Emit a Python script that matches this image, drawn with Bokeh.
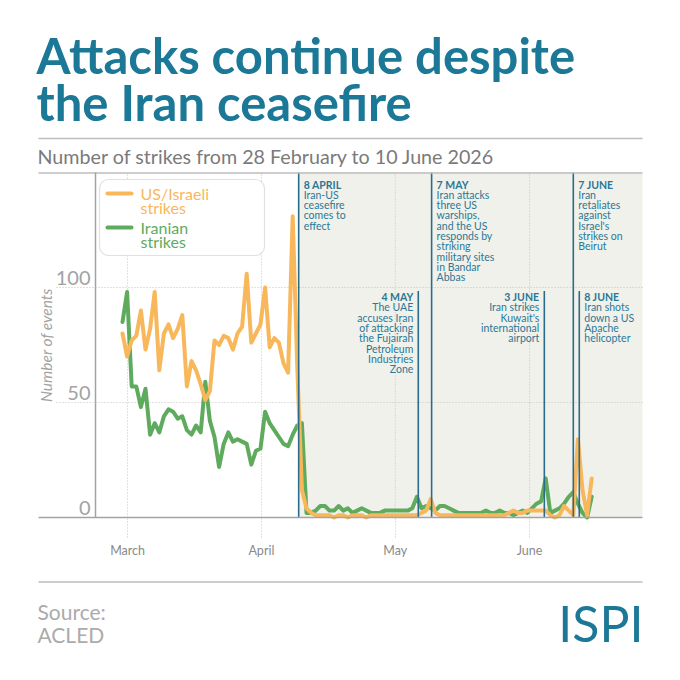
import math
from bokeh.plotting import figure
from bokeh.models import (BoxAnnotation, Label, LinearAxis, FixedTicker,
                          ColumnDataSource, Range1d)
from bokeh.core.properties import value
from bokeh.embed import file_html
from bokeh.resources import INLINE

# ---------------- data ----------------
# day index: 0 = 28 February 2026 ... 102 = 10 June 2026
DAY_INDEX = list(range(103))

US_ISRAELI = [
    80, 70, 77, 79, 90, 73, 82, 98, 64, 80,
    84, 78, 82, 88, 57, 68, 64, 58, 51, 55,
    77, 75, 79, 78, 73, 80, 83, 106, 76, 80,
    84, 100, 74, 78, 76, 67, 63, 131, 65, 12,
    4, 2, 1, 1, 1, 1, 0, 1, 1, 0,
    1, 1, 1, 0, 1, 1, 1, 1, 1, 1,
    1, 1, 1, 1, 1, 2, 3, 8, 2, 1,
    1, 1, 1, 1, 1, 1, 1, 1, 1, 1,
    1, 1, 1, 1, 2, 3, 2, 2, 3, 3,
    3, 3, 3, 1, 0, 1, 5, 3, 1, 34,
    12, 1, 17,
]

IRANIAN = [
    85, 98, 57, 57, 48, 56, 36, 41, 37, 44,
    47, 46, 43, 44, 38, 36, 40, 37, 59, 42,
    35, 22, 32, 37, 33, 34, 33, 32, 23, 29,
    30, 46, 41, 38, 35, 32, 31, 36, 40, 41,
    2, 2, 3, 5, 5, 3, 3, 5, 3, 4,
    2, 3, 4, 3, 2, 2, 2, 3, 3, 3,
    3, 3, 3, 4, 9, 4, 5, 4, 3, 5,
    5, 4, 3, 2, 2, 2, 2, 2, 2, 3,
    2, 2, 3, 2, 2, 1, 2, 3, 2, 4,
    6, 7, 17, 2, 3, 4, 6, 9, 11, 6,
    2, 0, 9,
]

MONTH_LABELS = ["March", "April", "May", "June"]
MONTH_TICKS = [1.1, 30.2, 59.3, 88.5]          # positions
Y_TICKS = [0, 50, 100]
Y_GRID = [50, 100]

EVENT_DATES = ["8 APRIL", "4 MAY", "7 MAY", "3 JUNE", "7 JUNE", "8 JUNE"]
EVENT_POS = [38.3, 64.3, 67.2, 91.7, 98.0, 99.3]
EVENT_TIER = [0, 1, 0, 1, 0, 1]
EVENT_SIDE = ["right", "left", "right", "left", "right", "right"]
EVENT_TEXT = [
    ["Iran-US", "ceasefire", "comes to", "effect"],
    ["The UAE", "accuses Iran", "of attacking", "the Fujairah", "Petroleum",
     "Industries", "Zone"],
    ["Iran attacks", "three US", "warships,", "and the US", "responds by",
     "striking", "military sites", "in Bandar", "Abbas"],
    ["Iran strikes", "Kuwait's", "international", "airport"],
    ["Iran", "retaliates", "against", "Israel's", "strikes on", "Beirut"],
    ["Iran shots", "down a US", "Apache", "helicopter"],
]

# ---------------- style / layout ----------------
TEAL = "#1b7896"
ANNOT = "#2b7896"
EVLINE = "#2b6c8b"
ORANGE = "#f9b75b"
GREEN = "#5eab5e"
SHADE = "#f1f1eb"
GRIDC = "#c2c2c2"
RULE = "#bdbdbd"
FONT = "Lato"

W = H = 664
PX0, PPD = 122.0, 4.6               # canvas-x of day 0, pixels per day
FL, FR, FT, FB = 38, 642, 172, 517  # chart box on the canvas
YMAX = 150.0
PPU = (FB - FT) / YMAX


def dx(px):
    return (px - PX0) / PPD


def dy(py):
    return (FB - py) / PPU


p = figure(width=W, height=H, output_backend="svg", toolbar_location=None,
           x_range=Range1d(dx(0), dx(W)), y_range=Range1d(dy(H), dy(0)),
           x_axis_type=None, y_axis_type=None,
           min_border_left=0, min_border_right=0,
           min_border_top=0, min_border_bottom=0)
p.outline_line_color = None
p.background_fill_color = "white"
p.border_fill_color = "white"

# shaded post-ceasefire period
p.add_layout(BoxAnnotation(left=EVENT_POS[0], right=dx(FR), top=YMAX, bottom=0,
                           fill_color=SHADE, fill_alpha=1, line_color=None,
                           level="image"))

# grid lines
p.segment(x0=MONTH_TICKS, x1=MONTH_TICKS, y0=[0] * 4, y1=[YMAX] * 4,
          line_color=GRIDC, line_dash="1 2", line_width=1)
p.segment(x0=[dx(56)] * len(Y_GRID), x1=[dx(FR)] * len(Y_GRID), y0=Y_GRID,
          y1=Y_GRID, line_color=GRIDC, line_dash="1 2", line_width=1)

# x axis
xax = LinearAxis(fixed_location=0, bounds=(dx(FL), dx(FR)),
                 ticker=FixedTicker(ticks=MONTH_TICKS))
xax.major_label_overrides = {t: lab for t, lab in zip(MONTH_TICKS, MONTH_LABELS)}
xax.axis_line_color = "#a3a3a3"
xax.axis_line_width = 1.5
xax.major_tick_in = 0
xax.major_tick_out = 20
xax.major_tick_line_color = GRIDC
xax.major_tick_line_dash = "1 2"
xax.minor_tick_line_color = None
xax.major_label_standoff = 5
xax.major_label_text_font = FONT
xax.major_label_text_font_size = "12.5px"
xax.major_label_text_color = "#8a8a8a"
p.add_layout(xax, "below")

# y axis (line + title); tick labels sit above the grid lines
yax = LinearAxis(fixed_location=dx(95), bounds=(0, YMAX),
                 ticker=FixedTicker(ticks=[]), axis_label="Number of events")
yax.axis_line_color = "#a3a3a3"
yax.axis_line_width = 1.5
yax.major_tick_in = 0
yax.major_tick_out = 0
yax.minor_tick_line_color = None
yax.axis_label_standoff = 41
yax.axis_label_text_font = FONT
yax.axis_label_text_font_style = "italic"
yax.axis_label_text_font_size = "15.5px"
yax.axis_label_text_color = "#a3a3a3"
p.add_layout(yax, "left")

p.text(x=[dx(90)] * len(Y_TICKS), y=Y_TICKS, text=[str(t) for t in Y_TICKS],
       text_align="right", text_baseline="middle", y_offset=-9.5,
       text_font=value(FONT), text_font_size="20px", text_color="#a3a3a3")

# data lines
p.line(DAY_INDEX, IRANIAN, line_color=GREEN, line_width=4, line_join="round",
       line_cap="round")
p.line(DAY_INDEX, US_ISRAELI, line_color=ORANGE, line_width=4,
       line_join="round", line_cap="round")

# event lines and notes
LOW_TOP = dy(290.5)
tops = [YMAX if t == 0 else LOW_TOP for t in EVENT_TIER]
p.segment(x0=EVENT_POS, x1=EVENT_POS, y0=[0] * len(EVENT_POS), y1=tops,
          line_color=EVLINE, line_width=1.6)

rows = dict(x=[], y=[], text=[], xo=[], yo=[], align=[], style=[])
for pos, date, lines, tier, side in zip(EVENT_POS, EVENT_DATES, EVENT_TEXT,
                                        EVENT_TIER, EVENT_SIDE):
    anchor = YMAX if tier == 0 else LOW_TOP
    first = 12 if tier == 0 else 6
    for k, t in enumerate([date] + lines):
        rows["x"].append(pos)
        rows["y"].append(anchor)
        rows["text"].append(t)
        rows["xo"].append(5 if side == "right" else -5)
        rows["yo"].append(first + k * 10.3)
        rows["align"].append("left" if side == "right" else "right")
        rows["style"].append("bold" if k == 0 else "normal")
p.text(x="x", y="y", text="text", x_offset="xo", y_offset="yo",
       text_align="align", text_font_style="style", text_baseline="middle",
       text_font=value(FONT), text_font_size="10.5px", text_color=ANNOT,
       source=ColumnDataSource(rows))

# rules: header separator, chart top, footer separator
RULES_Y = [dy(138), dy(172.5), dy(581.5)]
p.segment(x0=[dx(FL)] * 3, x1=[dx(FR)] * 3, y0=RULES_Y, y1=RULES_Y,
          line_color=RULE, line_width=1.5)

# legend
p.add_layout(BoxAnnotation(left=dx(99), right=dx(264), top=dy(179), bottom=dy(255),
                           fill_color="white", fill_alpha=1, line_color="#9c9c9c",
                           line_width=1.2, border_radius=9))
for col, yc in ((ORANGE, 193), (GREEN, 227)):
    p.add_layout(BoxAnnotation(left=dx(105), right=dx(133), top=dy(yc - 2),
                               bottom=dy(yc + 2), fill_color=col, fill_alpha=1,
                               line_color=None, border_radius=2))
for txt, yc, col in (("US/Israeli", 193, ORANGE), ("strikes", 207, ORANGE),
                     ("Iranian", 227, GREEN), ("strikes", 241, GREEN)):
    p.add_layout(Label(x=dx(140), y=dy(yc), text=txt, text_baseline="middle",
                       text_font=FONT, text_font_size="16px", text_color=col))

# titles and footer (y = visual middle of the capitals)
p.add_layout(Label(x=dx(36), y=dy(54), text="Attacks continue despite",
                   text_font=FONT, text_font_style="bold", text_font_size="49px",
                   text_color=TEAL, text_baseline="middle"))
p.add_layout(Label(x=dx(36), y=dy(101.5), text="the Iran ceasefire",
                   text_font=FONT, text_font_style="bold", text_font_size="49px",
                   text_color=TEAL, text_baseline="middle"))
p.add_layout(Label(x=dx(37), y=dy(155.5),
                   text="Number of strikes from 28 February to 10 June 2026",
                   text_font=FONT, text_font_size="19.7px", text_color="#7a7a7a",
                   text_baseline="middle"))
p.add_layout(Label(x=dx(37), y=dy(611), text="Source:", text_font=FONT,
                   text_font_size="21px", text_color="#ababab",
                   text_baseline="middle"))
p.add_layout(Label(x=dx(37), y=dy(634), text="ACLED", text_font=FONT,
                   text_font_size="21px", text_color="#ababab",
                   text_baseline="middle"))
p.add_layout(Label(x=dx(643), y=dy(622.5), text="ISPI", text_font=FONT,
                   text_font_size="50px", text_color=TEAL, text_align="right",
                   text_baseline="middle"))

open("out.html", "w").write(file_html(p, INLINE))
